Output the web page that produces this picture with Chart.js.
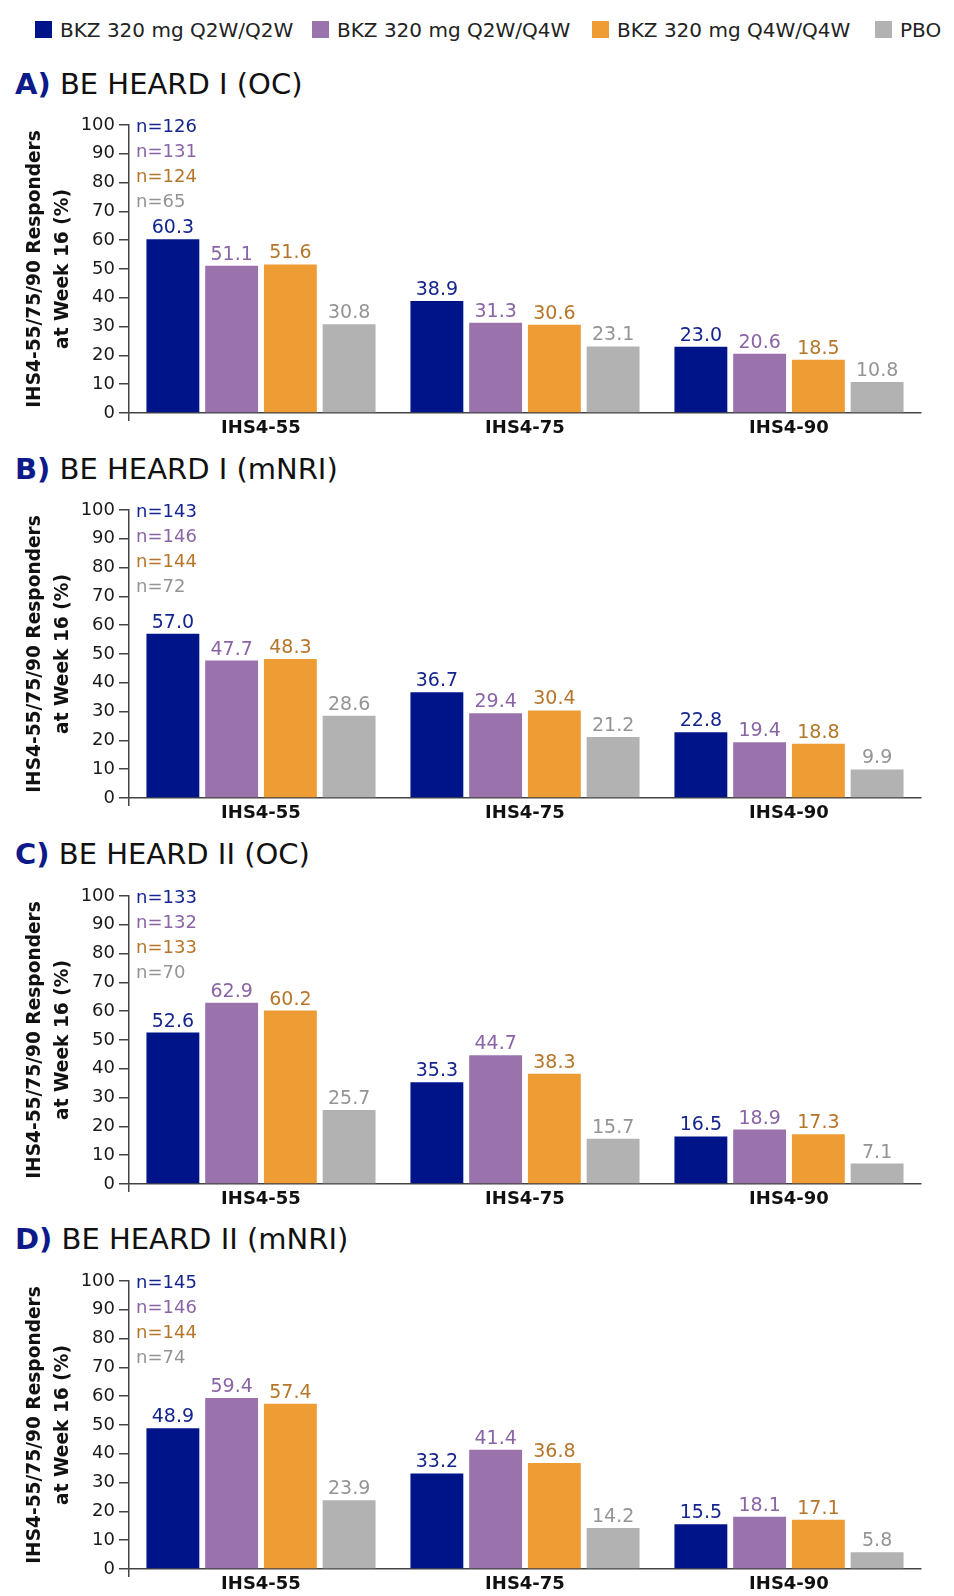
<!DOCTYPE html>
<html>
<head>
<meta charset="utf-8">
<script src="https://cdn.jsdelivr.net/npm/chart.js@4.4.1/dist/chart.umd.min.js"></script>
<style>
  html, body { margin: 0; padding: 0; background: #fff; overflow: hidden; }
  #page { position: relative; width: 954px; height: 1596px; font-family: "DejaVu Sans", sans-serif; }
  .leg-sq { position: absolute; width: 17px; height: 17px; top: 21px; }
  .leg-tx { position: absolute; top: 20px; font-size: 20px; line-height: 20px; color: #222; white-space: nowrap; }
  .ptitle { position: absolute; left: 15px; font-size: 29px; line-height: 29px; color: #111; white-space: nowrap; font-weight: normal; }
  .ptitle b { color: #0d1a8a; font-weight: bold; }
  canvas { position: absolute; left: 0; }
</style>
</head>
<body>
<div id="page"></div>
<script>
// ---------- data ----------
const categories = ['IHS4-55', 'IHS4-75', 'IHS4-90'];
const seriesNames = ['BKZ 320 mg Q2W/Q2W', 'BKZ 320 mg Q2W/Q4W', 'BKZ 320 mg Q4W/Q4W', 'PBO'];
const panelLetters = ['A)', 'B)', 'C)', 'D)'];
const panelTitles = ['BE HEARD I (OC)', 'BE HEARD I (mNRI)', 'BE HEARD II (OC)', 'BE HEARD II (mNRI)'];

const A_q2wq2w = [60.3, 38.9, 23.0];
const A_q2wq4w = [51.1, 31.3, 20.6];
const A_q4wq4w = [51.6, 30.6, 18.5];
const A_pbo    = [30.8, 23.1, 10.8];
const A_n      = [126, 131, 124, 65];

const B_q2wq2w = [57.0, 36.7, 22.8];
const B_q2wq4w = [47.7, 29.4, 19.4];
const B_q4wq4w = [48.3, 30.4, 18.8];
const B_pbo    = [28.6, 21.2, 9.9];
const B_n      = [143, 146, 144, 72];

const C_q2wq2w = [52.6, 35.3, 16.5];
const C_q2wq4w = [62.9, 44.7, 18.9];
const C_q4wq4w = [60.2, 38.3, 17.3];
const C_pbo    = [25.7, 15.7, 7.1];
const C_n      = [133, 132, 133, 70];

const D_q2wq2w = [48.9, 33.2, 15.5];
const D_q2wq4w = [59.4, 41.4, 18.1];
const D_q4wq4w = [57.4, 36.8, 17.1];
const D_pbo    = [23.9, 14.2, 5.8];
const D_n      = [145, 146, 144, 74];

const yTitle = ['IHS4-55/75/90 Responders', 'at Week 16 (%)'];

// ---------- styles ----------
const barColors = ['#00148a', '#9a73ad', '#ee9c34', '#b1b2b1'];
const labelColors = ['#14258e', '#8a64a5', '#b5762a', '#939494'];
const FONT = '"DejaVu Sans", sans-serif';

const panels = [
  { letter: panelLetters[0], title: panelTitles[0], series: [A_q2wq2w, A_q2wq4w, A_q4wq4w, A_pbo], n: A_n, top: 105, titleTop: 69.5 },
  { letter: panelLetters[1], title: panelTitles[1], series: [B_q2wq2w, B_q2wq4w, B_q4wq4w, B_pbo], n: B_n, top: 490, titleTop: 454.7 },
  { letter: panelLetters[2], title: panelTitles[2], series: [C_q2wq2w, C_q2wq4w, C_q4wq4w, C_pbo], n: C_n, top: 876, titleTop: 840 },
  { letter: panelLetters[3], title: panelTitles[3], series: [D_q2wq2w, D_q2wq4w, D_q4wq4w, D_pbo], n: D_n, top: 1261, titleTop: 1225 }
];

const page = document.getElementById('page');

// legend (HTML)
const legSq = [35, 312, 592, 875];
seriesNames.forEach((name, i) => {
  const sq = document.createElement('div');
  sq.className = 'leg-sq';
  sq.style.left = legSq[i] + 'px';
  sq.style.background = barColors[i];
  page.appendChild(sq);
  const tx = document.createElement('div');
  tx.className = 'leg-tx';
  tx.style.left = (legSq[i] + 25) + 'px';
  tx.textContent = name;
  page.appendChild(tx);
});

// labels plugin
const valueLabels = {
  id: 'valueLabels',
  afterDatasetsDraw(chart, args, opts) {
    const ctx = chart.ctx;
    ctx.save();
    ctx.font = '19px ' + FONT;
    ctx.textAlign = 'center';
    ctx.textBaseline = 'alphabetic';
    chart.data.datasets.forEach((ds, i) => {
      const meta = chart.getDatasetMeta(i);
      ctx.fillStyle = labelColors[i];
      meta.data.forEach((bar, j) => {
        ctx.fillText(ds.data[j].toFixed(1), bar.x, bar.y - 6);
      });
    });
    const y100 = chart.scales.y.getPixelForValue(100);
    ctx.textAlign = 'left';
    ctx.font = '18px ' + FONT;
    (opts.n || []).forEach((n, i) => {
      ctx.fillStyle = labelColors[i];
      ctx.fillText('n=' + n, 136, y100 + 6.5 + 25 * i);
    });
    ctx.restore();
  }
};

Chart.defaults.font.family = FONT;

panels.forEach((p, pi) => {
  const t = document.createElement('div');
  t.className = 'ptitle';
  t.style.top = p.titleTop + 'px';
  t.innerHTML = '<b>' + p.letter + '</b> ' + p.title;
  page.appendChild(t);

  const cv = document.createElement('canvas');
  cv.width = 954; cv.height = 340;
  cv.style.top = p.top + 'px';
  page.appendChild(cv);

  new Chart(cv.getContext('2d'), {
    type: 'bar',
    data: {
      labels: categories,
      datasets: p.series.map((d, i) => ({
        label: seriesNames[i],
        data: d,
        backgroundColor: barColors[i],
        borderWidth: 0,
        categoryPercentage: 0.89,
        barPercentage: 0.9
      }))
    },
    options: {
      responsive: false,
      animation: false,
      devicePixelRatio: 1,
      layout: { padding: { top: 20, right: 33, left: 0, bottom: 0 } },
      plugins: {
        legend: { display: false },
        tooltip: { enabled: false },
        valueLabels: { n: p.n }
      },
      scales: {
        x: {
          offset: true,
          grid: {
            offset: true,
            drawOnChartArea: false,
            drawTicks: true,
            tickLength: 8,
            lineWidth: 1.5,
            color: (c) => (c.index === 0 || c.index === categories.length) ? '#444' : 'rgba(0,0,0,0)'
          },
          border: { display: true, color: '#444', width: 1.5 },
          ticks: { color: '#111', font: { size: 18, weight: 'bold' }, padding: -3 },
          afterFit: (s) => { s.height = 32; }
        },
        y: {
          min: 0, max: 100,
          ticks: { stepSize: 10, color: '#1a1a1a', font: { size: 18 }, padding: 4 },
          grid: { drawOnChartArea: false, drawTicks: true, tickLength: 10, lineWidth: 1.5, color: '#444' },
          border: { display: true, color: '#444', width: 1.5 },
          title: {
            display: true,
            text: yTitle,
            color: '#111',
            font: { size: 18.6, weight: 'bold', lineHeight: 1.47 },
            padding: { top: 22, bottom: 0 }
          },
          afterFit: (s) => { s.width = 129; }
        }
      }
    },
    plugins: [valueLabels]
  });
});
</script>
</body>
</html>
